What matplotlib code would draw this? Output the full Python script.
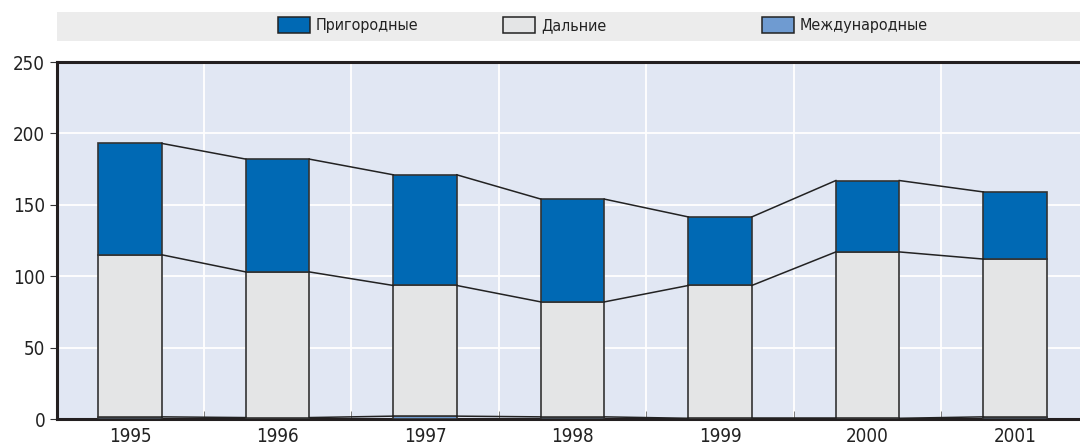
import matplotlib
matplotlib.use("Agg")
import matplotlib.pyplot as plt
import numpy as np
from matplotlib.patches import Rectangle

plt.rcParams['font.family'] = ['DejaVu Sans']
plt.rcParams['font.stretch'] = 'condensed'

years = ["1995", "1996", "1997", "1998", "1999", "2000", "2001"]
mezhdunarodnye = [1.5, 1.0, 2.0, 1.5, 0.5, 0.5, 1.5]
dalnie = [113.5, 102.0, 91.5, 80.5, 93.0, 116.5, 110.5]
prigorodnye = [78.0, 79.0, 77.5, 72.0, 48.0, 50.0, 47.0]

labels = ["Пригородные", "Дальние", "Международные"]
colors = ["#0069b4", "#e4e5e6", "#6f9bd1"]

fig = plt.figure(figsize=(10.8, 4.48), dpi=100)
ax = fig.add_axes([57/1080, 29/448, 1 - 57/1080, 357/448])
ax.set_facecolor("#e1e7f3")

x = np.arange(len(years))
w = 0.43
edge = "#333333"

m = np.array(mezhdunarodnye)
d = np.array(dalnie)
p = np.array(prigorodnye)

ax.bar(x, m, w, color=colors[2], edgecolor=edge, linewidth=1.2, zorder=3)
ax.bar(x, d, w, bottom=m, color=colors[1], edgecolor=edge, linewidth=1.2, zorder=3)
ax.bar(x, p, w, bottom=m + d, color=colors[0], edgecolor=edge, linewidth=1.2, zorder=3)

# lines joining the tops of each segment from bar to bar
for level in [m, m + d, m + d + p]:
    for i in range(len(x) - 1):
        ax.plot([x[i] + w/2, x[i+1] - w/2], [level[i], level[i+1]],
                color="#222222", lw=1.1, zorder=3)

ax.set_xlim(-0.495, 6.44)
ax.set_ylim(0, 250)
ax.set_yticks([0, 50, 100, 150, 200, 250])
ax.set_xticks(x)
ax.set_xticklabels(years)
ax.set_xticks(x[:-1] + 0.5, minor=True)
ax.tick_params(axis="x", which="major", length=0, labelsize=13.5, pad=6,
               labelcolor="#222222")
ax.tick_params(axis="x", which="minor", direction="in", length=6, color="#666666")
ax.tick_params(axis="y", length=5, labelsize=13.5, color="#333333",
               labelcolor="#222222")

ax.grid(True, axis="y", color="white", lw=1.3, zorder=1)
ax.grid(True, axis="x", which="minor", color="white", lw=1.3, zorder=1)
ax.set_axisbelow(True)

for s in ["left", "top", "bottom"]:
    ax.spines[s].set_linewidth(2.2)
    ax.spines[s].set_color("#231f20")
ax.spines["right"].set_visible(False)

# legend band
fig.patches.append(Rectangle((57/1080, 1 - 41/448), 1 - 57/1080, 29/448,
                             transform=fig.transFigure, facecolor="#ececec",
                             edgecolor="none", zorder=0))
legend_x = [278, 503, 762]
for lx, lab, col in zip(legend_x, labels, colors):
    fig.patches.append(Rectangle((lx/1080, 1 - 33/448), 32/1080, 16/448,
                                 transform=fig.transFigure, facecolor=col,
                                 edgecolor="#222222", lw=1.1, zorder=2))
    fig.text((lx + 38)/1080, 1 - 25.5/448, lab, fontsize=11.5,
             va="center", ha="left", color="#222222")

fig.savefig("out.png", dpi=100)
